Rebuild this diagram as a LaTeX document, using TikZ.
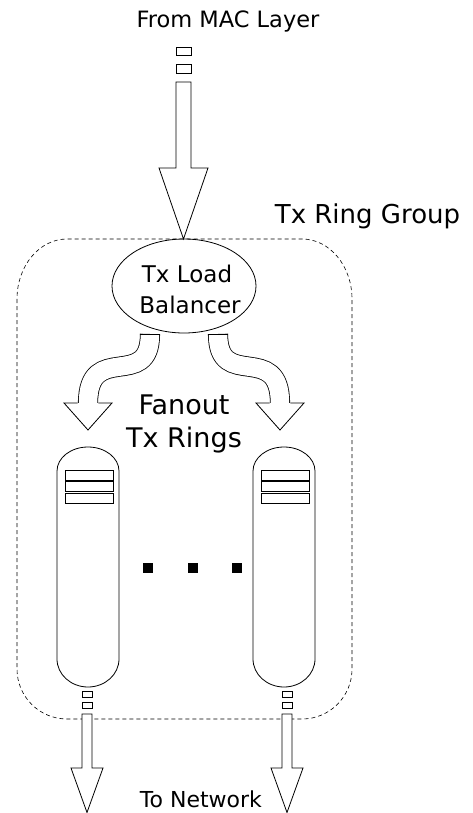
\documentclass[tikz,border=0pt]{standalone}
\usepackage{fontspec}
\setmainfont{DejaVu Sans}
\usetikzlibrary{shapes.geometric}
\begin{document}
\begin{tikzpicture}[x=1pt,y=-1pt,
  line width=0.8pt, line join=miter,
  outline/.style={draw=black, fill=white, line width=0.8pt},
  fatcurve/.style={draw=black, line width=0.8pt, double=white, double distance=18.5pt},
  txt/.style={inner sep=0pt, anchor=base, font=\fontsize{#1}{#1}\selectfont},
  group/.style={draw=black, line width=0.6pt, dash pattern=on 4pt off 3pt},
  dot/.style={fill=black, draw=none}]
\useasboundingbox (0,0) rectangle (473,813);

% ring group boundary
\draw[group] (17,299) -- (17,669)
  arc[start angle=180, end angle=90, radius=50] -- (302,719)
  arc[start angle=90, end angle=0, radius=50] -- (352,299)
  arc[start angle=0, end angle=-90, x radius=50, y radius=60] -- (67,239)
  arc[start angle=-90, end angle=-180, x radius=50, y radius=60] -- cycle;
\node[txt=26] (grp) at (367.5,223) {Tx Ring Group};

% incoming frames and the arrow into the balancer
\node[txt=22.5] (src) at (228,28) {From MAC Layer};
\draw[outline] (176,47) rectangle (191,55);
\draw[outline] (176,64) rectangle (191,73);
\draw[outline] (176,82) -- (176,168) -- (159,168) -- (183.5,239) -- (208,168)
  -- (191,168) -- (191,82) -- cycle;

% load balancer
\node[ellipse, draw, line width=0.8pt, minimum width=144pt, minimum height=94pt,
  inner sep=0pt] (bal) at (184,286) {};
\node[txt=23] (balA) at (187,282) {Tx Load};
\node[txt=23] (balB) at (190,313) {Balancer};

% fanout arrows
\draw[fatcurve] (150,334) .. controls (150,392) and (88,340) .. (88,403.5);
\draw (139.7,334) -- (160.3,334);
\fill[white] (64,403) -- (112,403) -- (88,430) -- cycle;
\draw (77.7,403) -- (64,403) -- (88,430) -- (112,403) -- (98.3,403);

\draw[fatcurve] (218,334) .. controls (218,392) and (280,340) .. (280,403.5);
\draw (207.7,334) -- (228.3,334);
\fill[white] (256,403) -- (304,403) -- (280,430) -- cycle;
\draw (269.7,403) -- (256,403) -- (280,430) -- (304,403) -- (290.3,403);

\node[txt=27] (fanA) at (184,414) {Fanout};
\node[txt=27] (fanB) at (184,447) {Tx Rings};

% transmit rings with their outgoing arrows
\foreach \cx/\ax/\nm in {88/87/L, 284/287/R}{
  \draw[outline] (\cx-31,471) arc[start angle=180, end angle=360, x radius=31, y radius=24]
    -- (\cx+31,659) arc[start angle=0, end angle=180, x radius=31, y radius=28] -- cycle;
  \coordinate (ring\nm) at (\cx,687);
  \draw[outline] (\cx-23,470) rectangle (\cx+25,480);
  \draw[outline] (\cx-23,481.5) rectangle (\cx+25,491.5);
  \draw[outline] (\cx-23,493) rectangle (\cx+25,503);
  \draw[outline] (\ax-5,691) rectangle (\ax+5,697);
  \draw[outline] (\ax-5,702) rectangle (\ax+5,708);
  \draw[outline] (\ax-5,714) -- (\ax-5,768) -- (\ax-16,768) -- (\ax,812.5) -- (\ax+16,768)
    -- (\ax+5,768) -- (\ax+5,714) -- cycle;
}

% ellipsis between the rings
\fill[dot] (143,563) rectangle (153,573);
\fill[dot] (188,563) rectangle (198,573);
\fill[dot] (232,563) rectangle (242,573);

\node[txt=22] (dst) at (201,807) {To Network};
\end{tikzpicture}
\end{document}
